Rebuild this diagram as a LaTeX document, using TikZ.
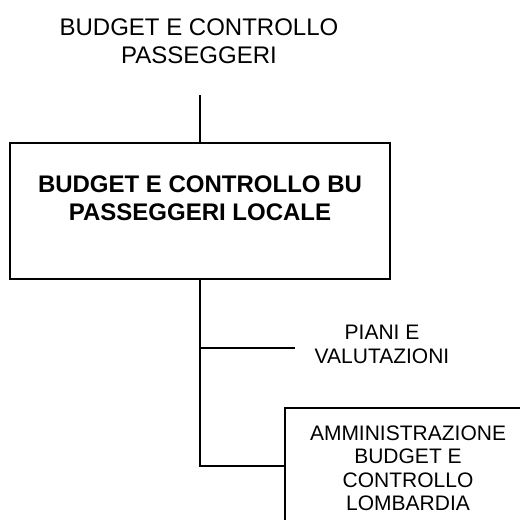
\documentclass[tikz,border=0pt]{standalone}
\usepackage{fontspec}
\setmainfont{Liberation Sans}
\usetikzlibrary{positioning}

\tikzset{
  orgtext/.style={align=center, inner sep=0pt, anchor=north, font=\fontsize{12}{14}\selectfont},
  orgbold/.style={orgtext, font=\fontsize{12}{14}\selectfont\bfseries},
  orgsmall/.style={orgtext, font=\fontsize{10.5}{11.75}\selectfont},
  orgbox/.style={draw, line width=0.8pt, inner sep=0pt},
  orgline/.style={line width=0.8pt}
}

\begin{document}
\begin{tikzpicture}[x=0.5pt,y=-0.5pt]
  \useasboundingbox (0,0) rectangle (520,520);
  % top level
  \node[orgtext] (budget) at (199,18) {BUDGET E CONTROLLO\\PASSEGGERI};
  \coordinate (budgetlink) at (200,95);
  % main box
  \node[orgbox, minimum width=190pt, minimum height=68pt] (bu) at (200,211) {};
  \node[orgbold] (bulabel) at (200,175) {BUDGET E CONTROLLO BU\\PASSEGGERI LOCALE};
  \draw[orgline] (budgetlink) -- (bu.north);
  % children
  \node[orgsmall] (piani) at (382,325) {PIANI E\\VALUTAZIONI};
  \coordinate (pianilink) at (295,348);
  \node[orgbox, minimum width=124pt, minimum height=58pt, anchor=west] (lombardia) at (284,466) {};
  \node[orgsmall] (lomblabel) at (408,425) {AMMINISTRAZIONE\\BUDGET E\\CONTROLLO\\LOMBARDIA};
  \draw[orgline] (bu.south) -- (bu.south |- lombardia.west) -- (lombardia.west);
  \draw[orgline] (bu.south |- pianilink) -- (pianilink);
\end{tikzpicture}
\end{document}
